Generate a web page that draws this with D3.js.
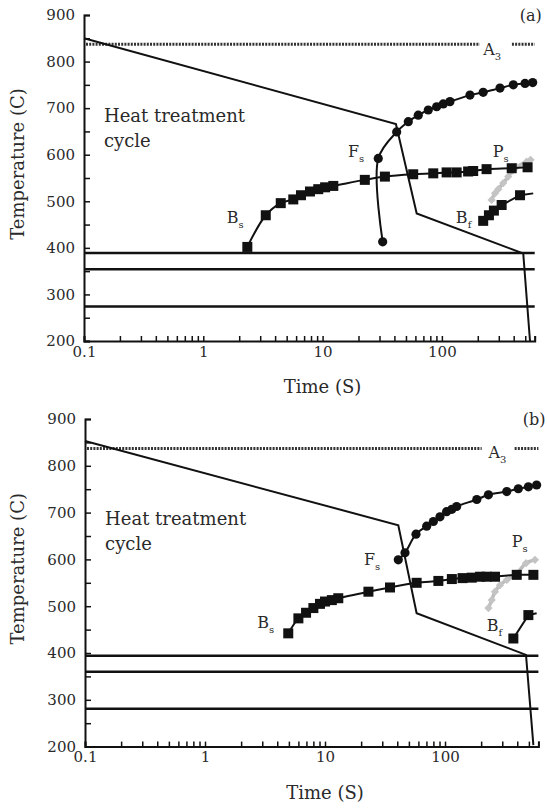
<!DOCTYPE html>
<html>
<head>
<meta charset="utf-8">
<script src="https://cdn.jsdelivr.net/npm/d3@7"></script>
<style>
  body { margin: 0; background: #fff; }
  text { font-family: "DejaVu Serif", "Liberation Serif", serif; fill: #2a2a2a; }
</style>
</head>
<body>
<div id="chart"></div>
<script>
// time in seconds, temperature in C
const xLabels = [0.1, 1, 10, 100];
const yLabels = [200, 300, 400, 500, 600, 700, 800, 900];
const a3Temp = 837;

// ---- panel (a) ----
const heatA = [[0.1, 850], [41.2, 666], [61.5, 474], [481, 388], [548, 200]];
const isoA = [389, 354, 274];
const a3GapA = [208, 372];
const ferriteA = [[31.9, 413], [29.3, 592], [41.8, 649], [52.3, 671], [63.4, 685], [76.9, 696],
  [90.4, 703], [102.7, 709], [116.9, 714], [172, 728], [222, 734], [307, 743], [397, 750],
  [498, 753], [577, 755]];
const bainiteA = [[2.34, 402], [3.34, 470], [4.46, 496], [5.68, 504], [6.59, 513], [7.84, 521],
  [9.2, 526], [10.5, 530], [12.3, 533], [22.6, 546], [33.3, 553], [57.5, 558], [84.7, 560],
  [109.6, 562], [133, 562], [166, 564], [183, 565], [237, 569], [385, 571], [523, 573]];
const bfA = [[222, 458], [248, 470], [273, 480], [317, 492], [452, 513]];
const bfTailA = [583, 517];
const pearliteA = [[261, 503], [279, 517], [297, 526], [327, 539], [360, 553], [392, 566],
  [423, 574], [513, 585], [554, 589]];

// ---- panel (b) ----
const heatB = [[0.1, 853], [40.8, 673], [58, 485], [473, 396], [545, 203]];
const isoB = [394, 360, 281];
const a3GapB = [202, 366];
const ferriteB = [[40.8, 599], [46.4, 614], [57.3, 654], [70.3, 671], [80, 681], [90.8, 691],
  [103, 702], [114, 707], [125, 713], [184, 728], [230, 738], [327, 745], [408, 751],
  [495, 755], [580, 759]];
const bainiteB = [[4.94, 442], [6.0, 474], [6.95, 486], [8.0, 496], [9.08, 505], [10, 510],
  [11.4, 513], [12.9, 517], [23, 531], [34.8, 540], [58, 550], [88, 554], [114, 558],
  [140, 560], [167, 561], [196, 563], [222, 563], [261, 563], [396, 567], [545, 567]];
const bfB = [[371, 431], [495, 481]];
const bfTailB = [580, 485];
const pearliteB = [[230, 496], [245, 513], [261, 531], [287, 545], [327, 556], [396, 570],
  [473, 592], [562, 599]];

// label anchors (data units)
const labelsA = { Bs: [1.57, 453], Fs: [16.3, 595], Ps: [267, 595], Bf: [131, 454], A3: [222, 814], heat: [0.147, 670] };
const labelsB = { Bs: [2.73, 453], Fs: [21.1, 588], Ps: [359, 627], Bf: [223, 446], A3: [230, 817], heat: [0.147, 673] };

const width = 547, height = 808;
const svg = d3.select('#chart').append('svg')
  .attr('width', width)
  .attr('height', height);

function drawPanel(p) {
  const x = d3.scaleLog().domain([0.1, 600]).range(p.xr);
  const y = d3.scaleLinear().domain([200, 900]).range(p.yr);
  const g = svg.append('g');

  // axes
  let xt = [];
  [0.1, 1, 10, 100].forEach(d => { for (let k = 1; k <= 9; k++) { const v = +(d * k).toPrecision(3); if (v <= 600) xt.push(v); } });
  const xAxis = d3.axisBottom(x).tickValues(xt).tickSize(-5).tickPadding(5)
    .tickFormat(d => xLabels.includes(d) ? String(d) : '');
  const yAxis = d3.axisLeft(y).tickValues(d3.range(200, 901, 50)).tickSize(-6).tickPadding(9)
    .tickFormat(d => yLabels.includes(d) ? String(d) : '');

  const gx = g.append('g').attr('transform', `translate(0,${p.yr[0]})`).call(xAxis);
  const gy = g.append('g').attr('transform', `translate(${p.xr[0]},0)`).call(yAxis);
  [gx, gy].forEach(a => {
    a.select('.domain').attr('stroke', '#111').attr('stroke-width', 2);
    a.selectAll('.tick line').attr('stroke', '#111').attr('stroke-width', 1.5);
    a.selectAll('.tick text').attr('font-family', 'DejaVu Serif').attr('font-size', 15).attr('fill', '#333');
  });

  g.append('text')
    .attr('transform', `translate(24,${(p.yr[0] + p.yr[1]) / 2 - 14}) rotate(-90)`)
    .attr('text-anchor', 'middle').attr('font-size', 18)
    .text('Temperature (C)');
  g.append('text')
    .attr('x', x(10)).attr('y', p.yr[0] + 52)
    .attr('text-anchor', 'middle').attr('font-size', 18)
    .text('Time (S)');
  g.append('text')
    .attr('x', p.xr[1] + 7).attr('y', p.yr[1] + 6)
    .attr('text-anchor', 'end').attr('font-size', 16)
    .text(p.tag);

  const line = d3.line().x(d => x(d[0])).y(d => y(d[1]));
  const curve = d3.line().x(d => x(d[0])).y(d => y(d[1])).curve(d3.curveCatmullRom.alpha(0.5));

  // isothermal holding lines
  g.selectAll('.iso').data(p.iso).join('line')
    .attr('x1', x(0.1)).attr('x2', x(600))
    .attr('y1', d => y(d)).attr('y2', d => y(d))
    .attr('stroke', '#111').attr('stroke-width', 2.5);

  // A3 dotted line
  [[0.1, p.gap[0]], [p.gap[1], 600]].forEach(s => {
    g.append('line')
      .attr('x1', x(s[0]) + 2).attr('x2', x(s[1]))
      .attr('y1', y(a3Temp)).attr('y2', y(a3Temp))
      .attr('stroke', '#333').attr('stroke-width', 3)
      .attr('stroke-dasharray', '2,1.2');
  });

  // heat treatment cycle
  g.append('path').attr('d', line(p.heat))
    .attr('fill', 'none').attr('stroke', '#111').attr('stroke-width', 2);

  // pearlite start (grey)
  g.append('path').attr('d', curve(p.ps))
    .attr('fill', 'none').attr('stroke', '#bdbdbd').attr('stroke-width', 3.5);
  g.selectAll('.ps').data(p.ps).join('path')
    .attr('transform', d => `translate(${x(d[0])},${y(d[1])}) rotate(45)`)
    .attr('d', d3.symbol(d3.symbolSquare, 34)())
    .attr('fill', '#c4c4c4');

  // bainite start
  g.append('path').attr('d', curve(p.bs))
    .attr('fill', 'none').attr('stroke', '#111').attr('stroke-width', 2);
  g.selectAll('.bs').data(p.bs).join('rect')
    .attr('x', d => x(d[0]) - 5).attr('y', d => y(d[1]) - 5)
    .attr('width', 10).attr('height', 10).attr('fill', '#111');

  // bainite finish
  g.append('path').attr('d', line(p.bf.concat([p.bfTail])))
    .attr('fill', 'none').attr('stroke', '#111').attr('stroke-width', 2);
  g.selectAll('.bf').data(p.bf).join('rect')
    .attr('x', d => x(d[0]) - 5).attr('y', d => y(d[1]) - 5)
    .attr('width', 10).attr('height', 10).attr('fill', '#111');

  // ferrite start
  g.append('path').attr('d', curve(p.fs))
    .attr('fill', 'none').attr('stroke', '#111').attr('stroke-width', 2);
  g.selectAll('.fs').data(p.fs).join('circle')
    .attr('cx', d => x(d[0])).attr('cy', d => y(d[1]))
    .attr('r', 4.6).attr('fill', '#111');

  // labels
  function sub(name, main, s) {
    const pos = p.labels[name];
    const t = g.append('text').attr('x', x(pos[0])).attr('y', y(pos[1])).attr('font-size', 16);
    t.append('tspan').text(main);
    t.append('tspan').attr('dy', 5).attr('font-size', 10).text(s);
  }
  sub('Bs', 'B', 's');
  sub('Fs', 'F', 's');
  sub('Ps', 'P', 's');
  sub('Bf', 'B', 'f');
  sub('A3', 'A', '3');

  const h = g.append('text').attr('x', x(p.labels.heat[0])).attr('y', y(p.labels.heat[1]))
    .attr('font-size', 18);
  h.append('tspan').text('Heat treatment');
  h.append('tspan').attr('x', x(p.labels.heat[0])).attr('dy', 25).text('cycle');
}

drawPanel({ xr: [84, 534.7], yr: [341, 15], tag: '(a)', heat: heatA, iso: isoA, gap: a3GapA,
  fs: ferriteA, bs: bainiteA, bf: bfA, bfTail: bfTailA, ps: pearliteA, labels: labelsA });
drawPanel({ xr: [85, 538.4], yr: [746.6, 419], tag: '(b)', heat: heatB, iso: isoB, gap: a3GapB,
  fs: ferriteB, bs: bainiteB, bf: bfB, bfTail: bfTailB, ps: pearliteB, labels: labelsB });
</script>
</body>
</html>
